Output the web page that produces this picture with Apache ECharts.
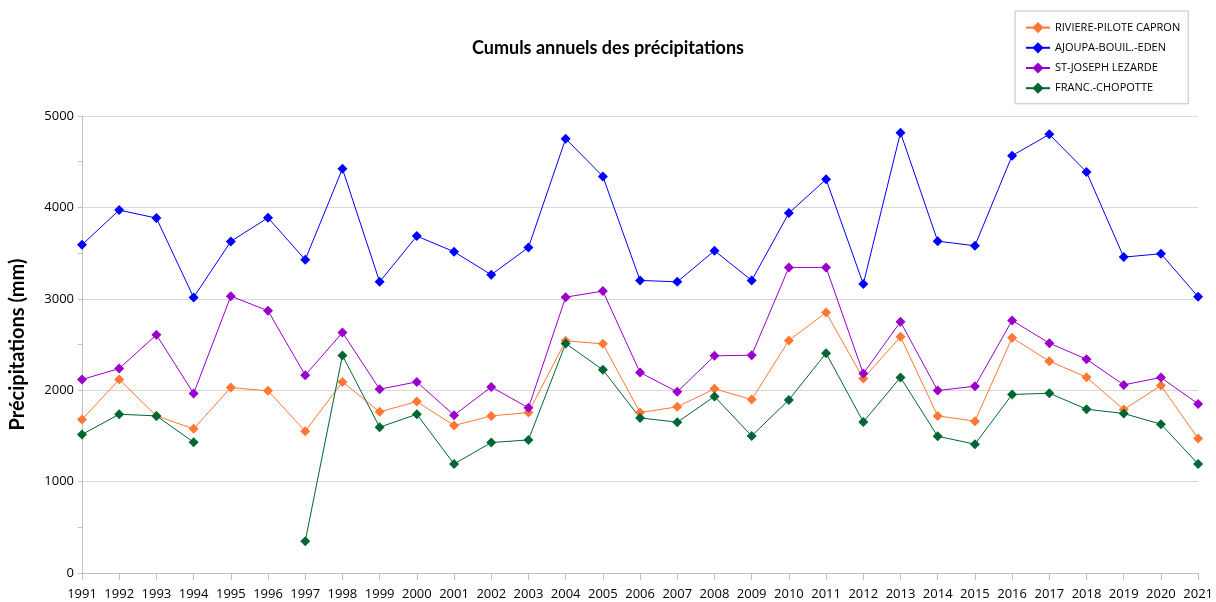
<!DOCTYPE html>
<html>
<head>
<meta charset="utf-8">
<script src="https://cdn.jsdelivr.net/npm/echarts@6/dist/echarts.min.js"></script>
<style>
html, body { margin: 0; padding: 0; background: #fff; }
#chart { width: 1216px; height: 602px; }
</style>
</head>
<body>
<div id="chart"></div>
<script>
var years = ['1991', '1992', '1993', '1994', '1995', '1996', '1997', '1998', '1999', '2000',
    '2001', '2002', '2003', '2004', '2005', '2006', '2007', '2008', '2009', '2010',
    '2011', '2012', '2013', '2014', '2015', '2016', '2017', '2018', '2019', '2020', '2021'];

var rivierePilote = [1679, 2117, 1719, 1577, 2029, 1993, 1551, 2091, 1763, 1876,
    1613, 1719, 1755, 2540, 2507, 1755, 1818, 2015, 1898, 2544,
    2850, 2128, 2584, 1719, 1661, 2573, 2318, 2142, 1788, 2051, 1471];

var ajoupa = [3591, 3971, 3883, 3015, 3628, 3887, 3427, 4423, 3186, 3686,
    3515, 3263, 3562, 4752, 4339, 3201, 3186, 3526, 3201, 3938,
    4307, 3161, 4818, 3631, 3580, 4566, 4799, 4387, 3456, 3493, 3022];

var stJoseph = [2117, 2237, 2606, 1964, 3029, 2869, 2164, 2631, 2011, 2091,
    1726, 2036, 1807, 3018, 3084, 2193, 1982, 2376, 2383, 3343,
    3343, 2182, 2748, 1996, 2044, 2763, 2515, 2339, 2058, 2139, 1850];

var francois = [1515, 1737, 1719, 1431, null, null, 347, 2380, 1595, 1737,
    1193, 1427, 1456, 2511, 2223, 1697, 1650, 1931, 1500, 1894,
    2405, 1653, 2139, 1496, 1409, 1953, 1967, 1792, 1745, 1628, 1193];

var names = ['RIVIERE-PILOTE CAPRON', 'AJOUPA-BOUIL.-EDEN', 'ST-JOSEPH LEZARDE', 'FRANC.-CHOPOTTE'];
var colors = ['#ff7733', '#0000ff', '#9900cc', '#006633'];
var values = [rivierePilote, ajoupa, stJoseph, francois];

var dom = document.getElementById('chart');
var myChart = echarts.init(dom);

var series = [];
for (var i = 0; i < names.length; i++) {
    series.push({
        name: names[i],
        type: 'line',
        data: values[i],
        symbol: 'diamond',
        symbolSize: 10,
        connectNulls: false,
        color: colors[i],
        lineStyle: { width: 1, color: colors[i] },
        itemStyle: { color: colors[i] },
        animation: false
    });
}

var option = {
    backgroundColor: '#fff',
    title: {
        text: 'Cumuls annuels des précipitations',
        left: 'center',
        top: 34,
        textStyle: {
            fontFamily: 'Lato',
            fontSize: 18,
            fontWeight: 'bold',
            color: '#000'
        }
    },
    legend: {
        orient: 'vertical',
        left: 1015,
        top: 11,
        padding: [11, 8, 10, 10],
        itemGap: 9,
        itemWidth: 24,
        itemHeight: 14,
        borderColor: '#c0c0c0',
        borderWidth: 1,
        data: names,
        textStyle: {
            fontFamily: 'Open Sans',
            fontSize: 11,
            color: '#000'
        }
    },
    grid: {
        left: 82,
        right: 16,
        top: 116,
        bottom: 29,
        containLabel: false
    },
    xAxis: {
        type: 'category',
        data: years,
        boundaryGap: false,
        axisLine: { lineStyle: { color: '#bfbfbf', width: 1 } },
        axisTick: { show: true, length: 7, lineStyle: { color: '#bfbfbf' } },
        axisLabel: {
            margin: 15,
            interval: 0,
            fontFamily: 'Open Sans',
            fontSize: 13,
            color: '#000'
        },
        splitLine: { show: false }
    },
    yAxis: {
        type: 'value',
        min: 0,
        max: 5000,
        interval: 1000,
        name: 'Précipitations (mm)',
        nameLocation: 'middle',
        nameGap: 54,
        nameTextStyle: {
            fontFamily: 'Lato',
            fontSize: 20,
            fontWeight: 'bold',
            color: '#000'
        },
        axisLine: { show: true, lineStyle: { color: '#bfbfbf', width: 1 } },
        axisTick: { show: true, length: 4, lineStyle: { color: '#bfbfbf' } },
        minorTick: { show: true, splitNumber: 2, length: 4, lineStyle: { color: '#bfbfbf' } },
        axisLabel: {
            margin: 8,
            fontFamily: 'Open Sans',
            fontSize: 13,
            color: '#000',
            formatter: function (v) { return String(v); }
        },
        splitLine: { show: true, lineStyle: { color: '#d9d9d9', width: 1 } }
    },
    series: series
};

if (option && typeof option === 'object') {
    myChart.setOption(option, true);
}
</script>
</body>
</html>
